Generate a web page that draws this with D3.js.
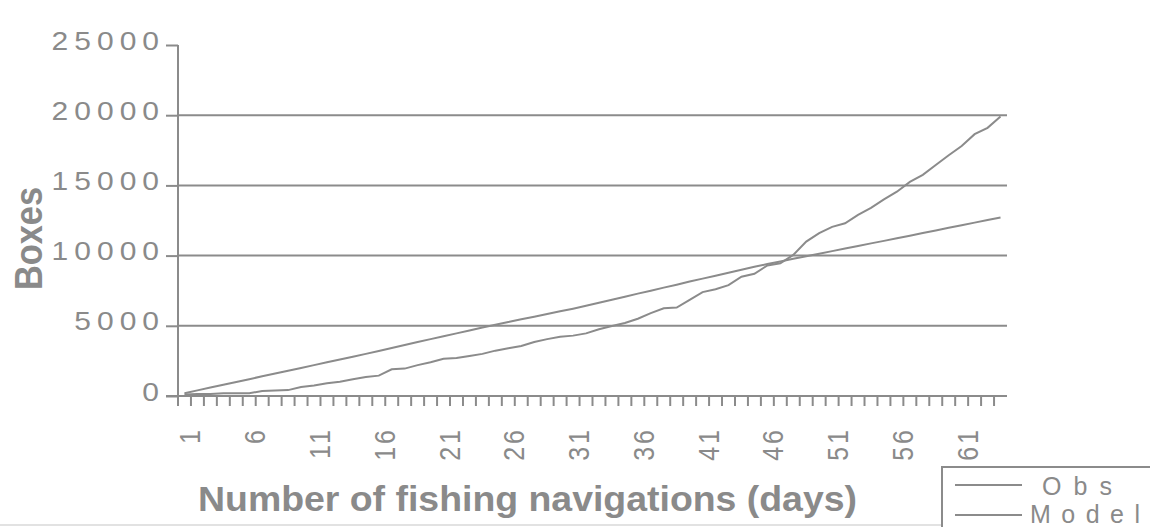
<!DOCTYPE html>
<html lang="en">
  <head>
    <meta charset="utf-8" />
    <title>Boxes by fishing navigation</title>
    <script src="https://d3js.org/d3.v7.min.js"></script>
    <style>
      body {
        margin: 0;
        background-color: #ffffff;
      }
      text {
        font-family: "Liberation Sans", Arial, sans-serif;
        fill: #8a8a8a;
      }
    </style>
  </head>

  <body>
    <div id="chart"></div>

    <script>
      // categories: day number of each fishing navigation
      const days = [
        1, 2, 3, 4, 5, 6, 7, 8, 9, 10, 11, 12, 13, 14, 15, 16,
        17, 18, 19, 20, 21, 22, 23, 24, 25, 26, 27, 28, 29, 30, 31, 32,
        33, 34, 35, 36, 37, 38, 39, 40, 41, 42, 43, 44, 45, 46, 47, 48,
        49, 50, 51, 52, 53, 54, 55, 56, 57, 58, 59, 60, 61, 62, 63, 64,
      ];

      // cumulative boxes, observed
      const obs = [
        100, 150, 150, 200, 200, 200, 350, 400, 420, 640, 750, 900, 1020, 1200, 1350, 1450,
        1900, 1950, 2200, 2400, 2650, 2700, 2850, 3000, 3230, 3400, 3560, 3850, 4050, 4220, 4300, 4460,
        4750, 4980, 5200, 5500, 5900, 6250, 6300, 6850, 7400, 7600, 7900, 8500, 8700, 9300, 9450, 10050,
        11000, 11600, 12050, 12300, 12900, 13400, 14000, 14550, 15250, 15750, 16450, 17150, 17800, 18650, 19100, 19900,
      ];

      // cumulative boxes, model
      const model = [
        200, 400, 600, 800, 1000, 1200, 1400, 1600, 1800, 2000, 2200, 2400, 2600, 2800, 3000, 3210,
        3420, 3630, 3840, 4050, 4260, 4460, 4670, 4880, 5080, 5270, 5460, 5650, 5840, 6030, 6220, 6430,
        6640, 6860, 7070, 7290, 7500, 7720, 7930, 8150, 8360, 8570, 8780, 8990, 9200, 9400, 9580, 9770,
        9950, 10130, 10320, 10500, 10690, 10870, 11050, 11240, 11420, 11610, 11790, 11980, 12160, 12350, 12540, 12720,
      ];

      const yTicks = [0, 5000, 10000, 15000, 20000, 25000];
      const gridTicks = [5000, 10000, 15000, 20000];
      const xTickLabels = ["1", "6", "11", "16", "21", "26", "31", "36", "41", "46", "51", "56", "61"];

      const width = 1150,
        height = 527,
        grey = "#8b8b8b";

      const svg = d3
        .select("#chart")
        .append("svg")
        .attr("width", width)
        .attr("height", height);

      const x = d3.scaleBand().domain(days).range([178, 1007]).padding(0);
      const y = d3.scaleLinear().domain([0, 25000]).range([396, 45]);

      // gridlines
      svg
        .selectAll(".grid")
        .data(gridTicks)
        .enter()
        .append("line")
        .attr("x1", 178)
        .attr("x2", 1007)
        .attr("y1", (d) => y(d))
        .attr("y2", (d) => y(d))
        .style("stroke", grey)
        .style("stroke-width", 2);

      // y axis
      const yAxis = svg
        .append("g")
        .attr("transform", "translate(178,0)")
        .call(d3.axisLeft(y).tickValues(yTicks).tickSize(12).tickFormat(""));
      yAxis.selectAll("line, path").style("stroke", grey).style("stroke-width", 2);
      yAxis.select(".domain").attr("d", `M0,${y(25000)}V${y(0)}`);

      svg
        .selectAll(".ylab")
        .data(yTicks)
        .enter()
        .append("text")
        .attr("transform", (d) => `translate(165,${y(d) + 4.5}) scale(1.2,1)`)
        .attr("text-anchor", "end")
        .style("font-size", "25px")
        .style("letter-spacing", "5px")
        .text((d) => d);

      // x axis
      svg
        .append("line")
        .attr("x1", 166)
        .attr("x2", 1007)
        .attr("y1", 396)
        .attr("y2", 396)
        .style("stroke", grey)
        .style("stroke-width", 2);

      svg
        .selectAll(".xtick")
        .data(days)
        .enter()
        .append("line")
        .attr("x1", (d) => x(d))
        .attr("x2", (d) => x(d))
        .attr("y1", 396)
        .attr("y2", 406)
        .style("stroke", grey)
        .style("stroke-width", 2);

      svg
        .selectAll(".xlab")
        .data(xTickLabels)
        .enter()
        .append("text")
        .attr(
          "transform",
          (d) =>
            `translate(${x(+d) + x.bandwidth() / 2 + 16},427) scale(1.2,1) rotate(-90)`
        )
        .attr("text-anchor", "end")
        .style("font-size", "25px")
        .style("letter-spacing", "3px")
        .text((d) => d);

      // series
      const line = (vals) =>
        d3
          .line()
          .x((d, i) => x(days[i]) + x.bandwidth() / 2)
          .y((d) => y(d))(vals);

      [model, obs].forEach((vals) => {
        svg
          .append("path")
          .attr("d", line(vals))
          .style("fill", "none")
          .style("stroke", grey)
          .style("stroke-width", 2);
      });

      // axis titles
      svg
        .append("text")
        .attr("x", 198)
        .attr("y", 511)
        .attr("textLength", 659)
        .attr("lengthAdjust", "spacingAndGlyphs")
        .style("font-size", "35px")
        .style("font-weight", "bold")
        .text("Number of fishing navigations (days)");

      svg
        .append("text")
        .attr("transform", "translate(42,238.5) rotate(-90)")
        .attr("text-anchor", "middle")
        .attr("textLength", 103)
        .attr("lengthAdjust", "spacingAndGlyphs")
        .style("font-size", "38px")
        .style("font-weight", "bold")
        .text("Boxes");

      // bottom edge
      svg
        .append("line")
        .attr("x1", 0)
        .attr("x2", 942)
        .attr("y1", 525)
        .attr("y2", 525)
        .style("stroke", "#e2e2e2")
        .style("stroke-width", 2);

      // legend
      const legend = svg.append("g");
      legend
        .append("rect")
        .attr("x", 942)
        .attr("y", 467)
        .attr("width", 230)
        .attr("height", 80)
        .style("fill", "#fff")
        .style("stroke", grey)
        .style("stroke-width", 2);

      const legendItems = [
        { name: "Obs", ly: 485, tx: 1042, ty: 495, len: 70 },
        { name: "Model", ly: 515, tx: 1030, ty: 523, len: 110 },
      ];

      legendItems.forEach((d) => {
        legend
          .append("line")
          .attr("x1", 955)
          .attr("x2", 1022)
          .attr("y1", d.ly)
          .attr("y2", d.ly)
          .style("stroke", grey)
          .style("stroke-width", 2);
        legend
          .append("text")
          .attr("x", d.tx)
          .attr("y", d.ty)
          .attr("textLength", d.len)
          .attr("lengthAdjust", "spacing")
          .style("font-size", "25px")
          .text(d.name);
      });
    </script>
  </body>
</html>
